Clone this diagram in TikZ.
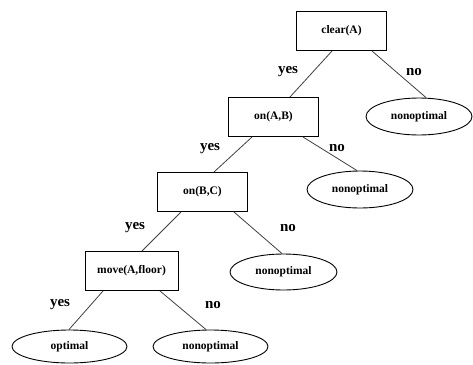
\documentclass[tikz,border=0pt]{standalone}
\usepackage{fontspec}
\setmainfont{Liberation Serif}
\usetikzlibrary{shapes.geometric}
\begin{document}
\begin{tikzpicture}[x=1pt,y=-1pt,
  test/.style={draw=black,line width=1pt,minimum width=90pt,minimum height=39pt,
    inner sep=0pt,font=\fontsize{11.5}{13}\selectfont\bfseries},
  leaf/.style={ellipse,draw=black,line width=0.9pt,minimum width=106pt,minimum height=37pt,
    inner sep=0pt,font=\fontsize{11.5}{13}\selectfont\bfseries},
  branch/.style={draw=black!75,line width=0.8pt},
  lbl/.style={font=\fontsize{15}{17}\selectfont\bfseries,inner sep=0pt}]
\useasboundingbox (0,0) rectangle (473,364);

% decision tests
\node[test] (clear) at (341.5,31) {clear(A)};
\node[test] (onab) at (273.5,117) {on(A,B)};
\node[test] (onbc) at (202.5,192) {on(B,C)};
\node[test,minimum width=93pt] (move) at (131.5,271) {move(A,floor)};

% outcomes
\node[leaf] (n1) at (419,116.5) {nonoptimal};
\node[leaf] (n2) at (360,189.5) {nonoptimal};
\node[leaf,minimum width=107pt,minimum height=36pt] (n3) at (283.5,272) {nonoptimal};
\node[leaf,minimum width=115pt,minimum height=33pt] (opt) at (69.5,346.5) {optimal};
\node[leaf,minimum width=115pt,minimum height=33pt] (n4) at (210.5,346.5) {nonoptimal};

% branches
\draw[branch] ([xshift=-9.5pt]clear.south) -- ([xshift=16.5pt]onab.north);
\draw[branch] ([xshift=30.5pt]clear.south) -- ([xshift=7pt]n1.north);
\draw[branch] ([xshift=-21.5pt]onab.south) -- ([xshift=11.5pt]onbc.north);
\draw[branch] ([xshift=29.5pt]onab.south) -- ([xshift=-3pt]n2.north);
\draw[branch] ([xshift=-21.5pt]onbc.south) -- ([xshift=10.5pt]move.north);
\draw[branch] ([xshift=31.5pt]onbc.south) -- ([xshift=-1.5pt]n3.north);
\draw[branch] ([xshift=-28.5pt]move.south) -- ([xshift=-0.5pt]opt.north);
\draw[branch] ([xshift=28.5pt]move.south) -- ([xshift=-4.5pt]n4.north);

% branch labels
\node[lbl] (y1) at (288,72) {yes};
\node[lbl] (o1) at (414,72) {no};
\node[lbl] (y2) at (210,149) {yes};
\node[lbl] (o2) at (337,148) {no};
\node[lbl] (y3) at (135,228) {yes};
\node[lbl] (o3) at (288,228) {no};
\node[lbl] (y4) at (60,305) {yes};
\node[lbl] (o4) at (213,305) {no};
\end{tikzpicture}
\end{document}
